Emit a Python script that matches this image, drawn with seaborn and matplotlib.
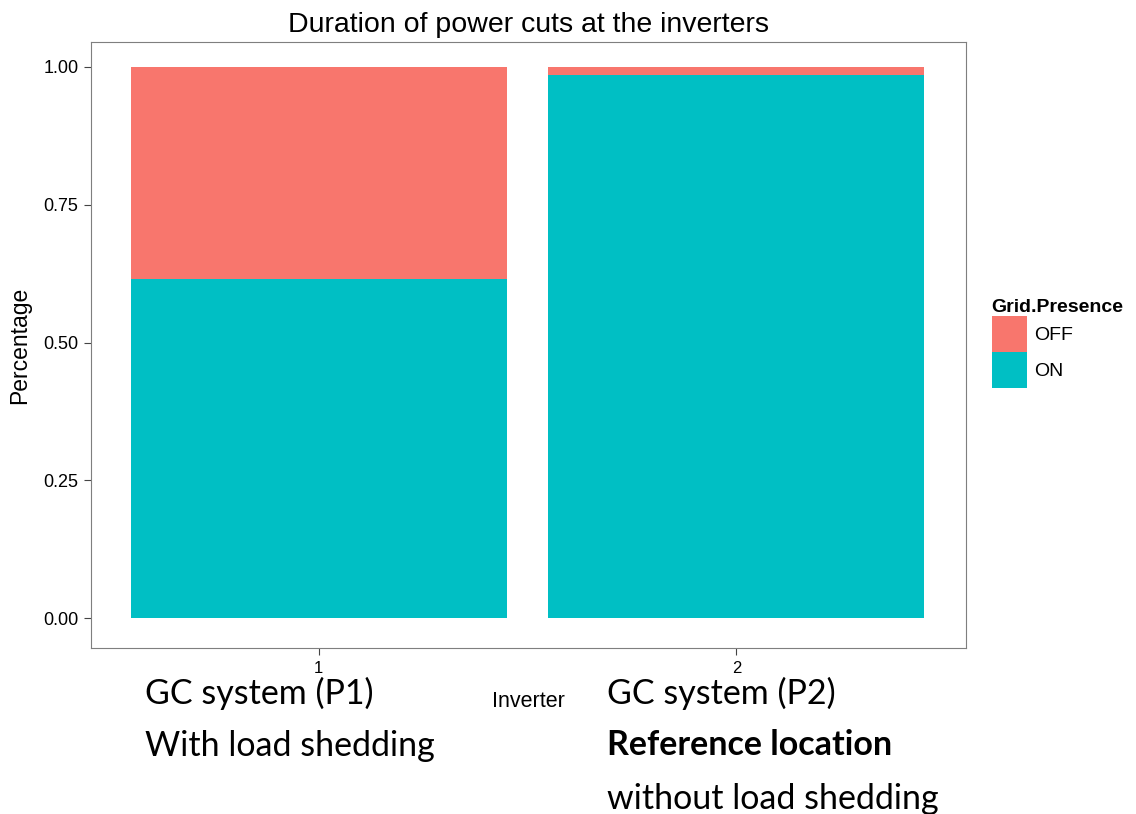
import matplotlib
matplotlib.use("Agg")
import matplotlib.pyplot as plt
import matplotlib.patches as mpatches
import seaborn as sns
import pandas as pd

# data
inverters = ["1", "2"]
share_on = [0.615, 0.985]
share_off = [0.385, 0.015]
presence_levels = ["OFF", "ON"]
presence_colors = ["#F8766D", "#00BFC4"]

sns.set_theme(style="white")
plt.rcParams["font.family"] = ["Liberation Sans", "DejaVu Sans"]
plt.rcParams["text.color"] = "black"
plt.rcParams["axes.labelcolor"] = "black"
plt.rcParams["xtick.color"] = "black"
plt.rcParams["ytick.color"] = "black"

df = pd.DataFrame({"Inverter": inverters, "ON": share_on, "OFF": share_off})
df["total"] = df["ON"] + df["OFF"]

fig = plt.figure(figsize=(11.36, 8.14), dpi=100)
ax = fig.add_axes([0.0801, 0.2039, 0.7703, 0.7445])

# stacked bars: full height in OFF colour, ON drawn over it
sns.barplot(data=df, x="Inverter", y="total", color=presence_colors[0],
            width=0.9, saturation=1, linewidth=0, ax=ax)
sns.barplot(data=df, x="Inverter", y="ON", color=presence_colors[1],
            width=0.9, saturation=1, linewidth=0, ax=ax)

ax.set_xlim(-0.545, 1.55)
ax.set_ylim(-0.054, 1.045)
ax.set_yticks([0, 0.25, 0.5, 0.75, 1.0])
ax.set_yticklabels(["0.00", "0.25", "0.50", "0.75", "1.00"])
ax.tick_params(axis="both", which="both", length=5, width=0.8, color="#444444",
               left=True, bottom=True, labelsize=13, pad=4)
ax.tick_params(axis="x", labelsize=12)
ax.set_xlabel("Inverter", fontsize=15.5, labelpad=11)
ax.set_ylabel("Percentage", fontsize=16.5, labelpad=9)
ax.set_title("Duration of power cuts at the inverters", fontsize=20.5, pad=7)
for s in ax.spines.values():
    s.set_color("#7f7f7f")
    s.set_linewidth(0.8)

# legend
handles = [mpatches.Patch(facecolor=c, edgecolor="none", label=l)
           for c, l in zip(presence_colors, presence_levels)]
leg = fig.legend(handles=handles, title="Grid.Presence", loc="upper left",
                 bbox_to_anchor=(0.873, 0.633), frameon=False, fontsize=14,
                 title_fontproperties={"weight": "bold", "size": 14},
                 handlelength=1.8, handleheight=2.5, handletextpad=0.4,
                 labelspacing=0.0, borderaxespad=0, borderpad=0)
leg._legend_box.align = "left"

# annotations under the axis
big = ["Lato", "DejaVu Sans"]
fig.text(0.128, 0.148, "GC system (P1)", fontsize=24.5, family=big, va="center")
fig.text(0.128, 0.0835, "With load shedding", fontsize=24.5, family=big, va="center")
fig.text(0.534, 0.148, "GC system (P2)", fontsize=24.5, family=big, va="center")
fig.text(0.534, 0.0845, "Reference location", fontsize=24.5, family=big,
         weight="bold", va="center")
fig.text(0.534, 0.0185, "without load shedding", fontsize=24.5, family=big, va="center")

fig.savefig("out.png", dpi=100)
